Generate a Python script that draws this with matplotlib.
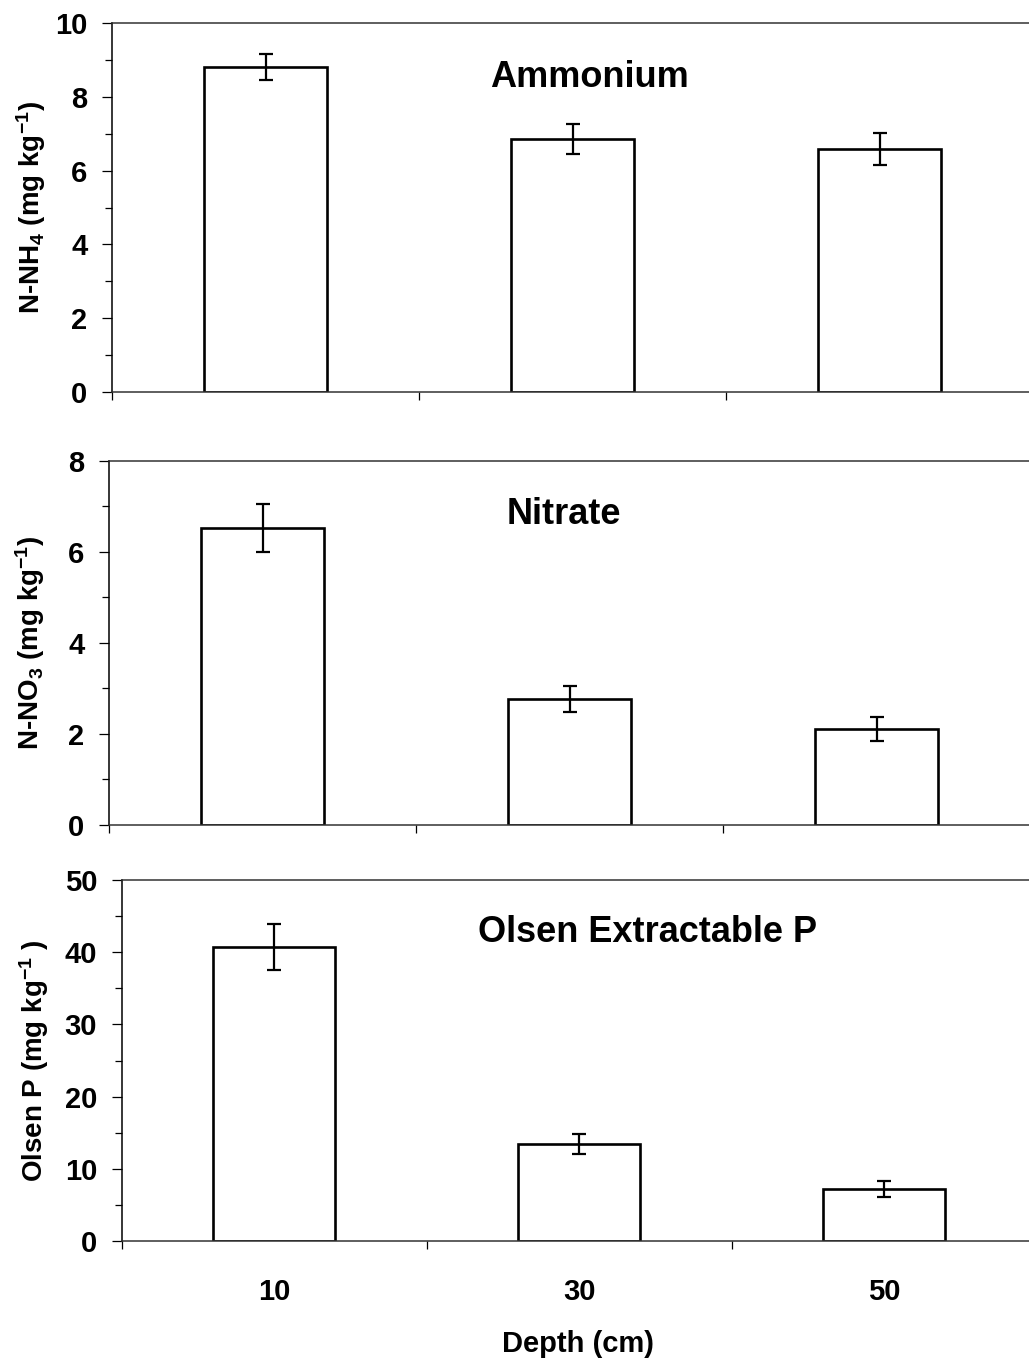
import matplotlib
matplotlib.use('Agg')
import matplotlib.pyplot as plt
import numpy as np

# Data
depths = ['10', '30', '50']
ammonium = [8.80, 6.86, 6.58]
ammonium_err = [0.34, 0.40, 0.44]
nitrate = [6.52, 2.77, 2.11]
nitrate_err = [0.52, 0.29, 0.27]
olsen_p = [40.7, 13.4, 7.2]
olsen_p_err = [3.2, 1.4, 1.1]

plt.rcParams['font.family'] = ['Liberation Sans', 'DejaVu Sans']
plt.rcParams['font.weight'] = 'bold'
plt.rcParams['mathtext.fontset'] = 'custom'
plt.rcParams['mathtext.rm'] = 'Liberation Sans:bold'
plt.rcParams['mathtext.it'] = 'Liberation Sans:bold'
plt.rcParams['mathtext.bf'] = 'Liberation Sans:bold'

W, H = 1029, 1364
fig = plt.figure(figsize=(W / 100, H / 100), dpi=100)


def px_axes(left, top, bottom, width):
    # rectangle given in pixels from the top-left corner
    return fig.add_axes([left / W, 1 - bottom / H, width / W, (bottom - top) / H])


panels = [
    # values, errors, ylim, major step, minor step, ylabel, title, (title x, baseline), rect, ylabel x
    (ammonium, ammonium_err, 10, 2, 1, r'N-NH$_{4}$ (mg kg$^{-1}$)', 'Ammonium',
     (589, 87), (112, 22.7, 392.3, 921), 31),
    (nitrate, nitrate_err, 8, 2, 1, r'N-NO$_{3}$ (mg kg$^{-1}$)', 'Nitrate',
     (564, 524), (109, 460.7, 825, 921), 30),
    (olsen_p, olsen_p_err, 50, 10, 5, r'Olsen P (mg kg$^{-1}$ )', 'Olsen Extractable P',
     (647, 942), (121.7, 880, 1241, 915), 34),
]

x = np.arange(len(depths)) + 0.5

for k, (vals, errs, ymax, step, mstep, ylab, title, tpos, rect, ylx) in enumerate(panels):
    ax = px_axes(*rect)
    ax.bar(x, vals, width=0.4, color='white', edgecolor='black', linewidth=1.9, zorder=2)
    ax.errorbar(x, vals, yerr=errs, fmt='none', ecolor='black', elinewidth=1.6,
                capsize=4.8, capthick=1.6, zorder=3)
    ax.set_xlim(0, 3)
    ax.set_ylim(0, ymax)
    ax.set_yticks(np.arange(0, ymax + 0.1, step))
    ax.set_yticks(np.arange(0, ymax + 0.1, mstep), minor=True)
    ax.tick_params(axis='y', which='major', length=7.2, width=0.9, pad=10.5, labelsize=21)
    ax.tick_params(axis='y', which='minor', length=5, width=0.9)
    ax.set_xticks([0, 1, 2, 3])
    ax.set_xticklabels([])
    ax.tick_params(axis='x', which='major', length=6, width=0.9)
    if k == 2:
        ax.set_xticks(x, minor=True)
        ax.set_xticklabels(depths, minor=True, fontsize=21, fontweight='bold')
        ax.tick_params(axis='x', which='minor', length=0, pad=27)
    for side in ['left', 'bottom']:
        ax.spines[side].set_linewidth(1.1)
    ax.spines['right'].set_visible(False)
    ax.spines['top'].set_linewidth(1.1)
    ax.spines['top'].set_color('#333333')
    ax.spines['bottom'].set_color('#333333')
    for lab in ax.get_yticklabels():
        lab.set_fontweight('bold')
    cy = (rect[1] + rect[2]) / 2
    fig.text(ylx / W, 1 - cy / H, ylab, rotation=90, ha='center', va='center',
             fontsize=20, fontweight='bold')
    fig.text(tpos[0] / W, 1 - tpos[1] / H, title, ha='center', va='baseline',
             fontsize=26, fontweight='bold')

fig.text(578 / W, 1 - 1352 / H, 'Depth (cm)', ha='center', va='baseline',
         fontsize=21, fontweight='bold')

fig.savefig('out.png', dpi=100)
